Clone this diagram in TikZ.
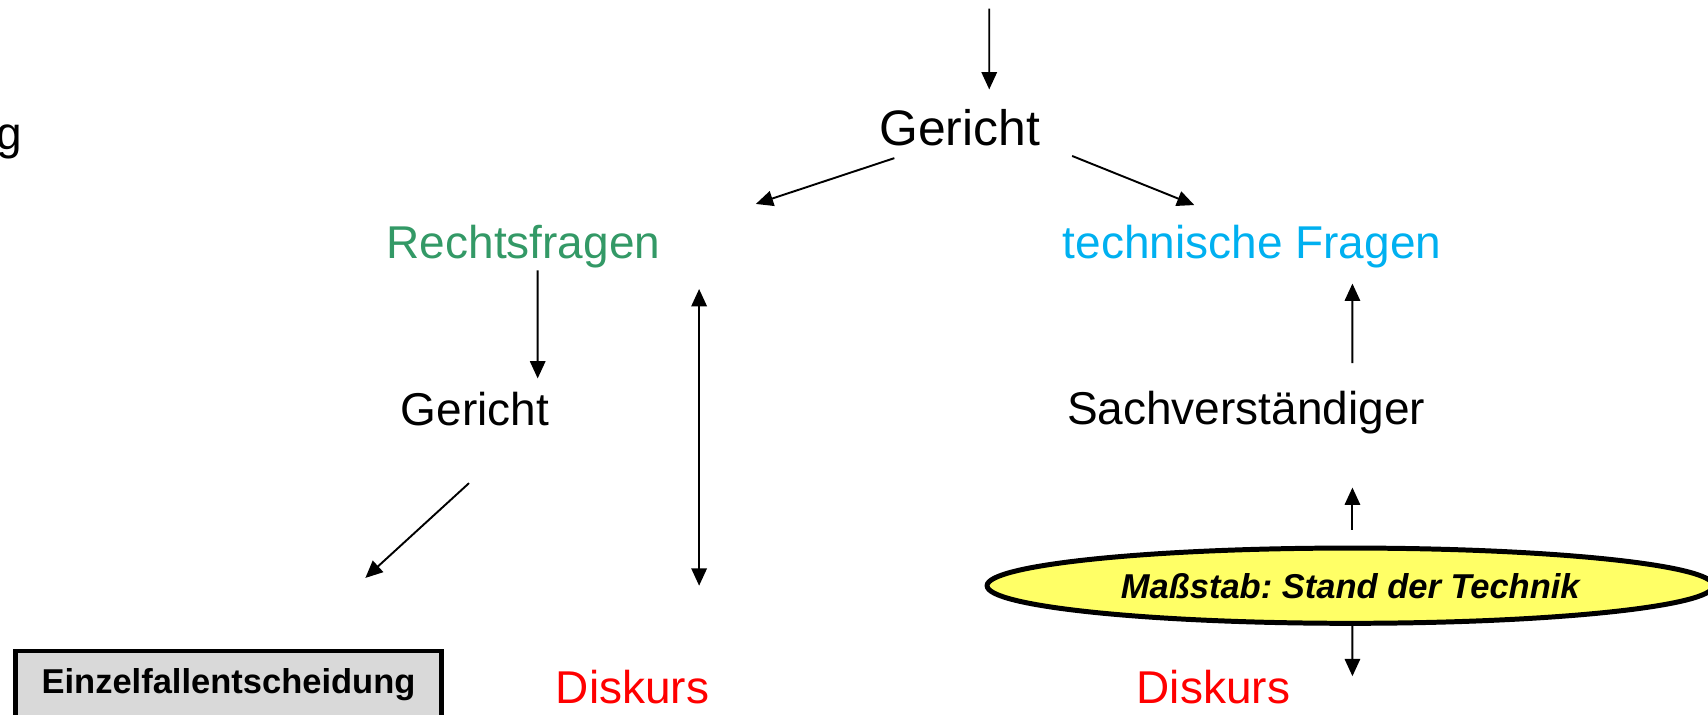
\documentclass[tikz,border=0pt]{standalone}
\usepackage{fontspec}
\setmainfont{Liberation Sans}
\usetikzlibrary{arrows.meta,shapes.geometric}
\frenchspacing

\definecolor{rechtgruen}{RGB}{51,153,102}
\definecolor{technikblau}{RGB}{0,176,240}
\definecolor{diskursrot}{RGB}{255,0,0}
\definecolor{massgelb}{RGB}{255,255,102}
\definecolor{kastengrau}{RGB}{217,217,217}

\begin{document}
\begin{tikzpicture}[
    pfeil/.style={-{Triangle[length=4.5pt,width=4pt]},line width=0.5pt},
    doppelpfeil/.style={{Triangle[length=4.5pt,width=4pt]}-{Triangle[length=4.5pt,width=4pt]},line width=0.5pt},
    wort/.style={anchor=base,inner sep=0pt,font=\fontsize{12}{14}\selectfont},
    klein/.style={font=\fontsize{9}{11}\selectfont\bfseries}
]
    \useasboundingbox (0,0) rectangle (15.66,6.55);

    % Begriffe
    \node[wort,anchor=base west] (rest) at (-0.04,5.18) {g};
    \node[wort,font=\fontsize{13}{15}\selectfont] (gericht) at (8.80,5.22) {Gericht};
    \node[wort,text=rechtgruen] (recht) at (4.80,4.18) {Rechtsfragen};
    \node[wort,text=technikblau] (technik) at (11.48,4.18) {technische Fragen};
    \node[wort] (gerichtB) at (4.355,2.65) {Gericht};
    \node[wort] (sachv) at (11.425,2.66) {Sachverständiger};
    \node[wort,text=diskursrot] (diskursL) at (5.80,0.10) {Diskurs};
    \node[wort,text=diskursrot] (diskursR) at (11.125,0.10) {Diskurs};

    % Kasten und Ellipse
    \node[draw,line width=1.2pt,fill=kastengrau,minimum width=3.91cm,minimum height=0.62cm,
          inner sep=0pt,klein] (einzel) at (2.095,0.27) {Einzelfallentscheidung};
    \node[ellipse,draw,line width=1.3pt,fill=massgelb,minimum width=6.66cm,minimum height=0.69cm,
          inner sep=0pt,font=\fontsize{9}{11}\selectfont\bfseries\itshape] (massstab) at (12.38,1.18) {Maßstab: Stand der Technik};

    % Pfeile
    \coordinate (zulauf) at (9.07,6.47);
    \draw[pfeil] (zulauf) -- ([shift={(0.27,0.51)}]gericht.base);
    \draw[pfeil] ([shift={(-0.60,-0.12)}]gericht.base) -- ([shift={(2.13,0.50)}]recht.base);
    \draw[pfeil] ([shift={(1.03,-0.10)}]gericht.base) -- ([shift={(-0.53,0.49)}]technik.base);
    \draw[pfeil] ([shift={(0.13,-0.11)}]recht.base) -- ([shift={(0.575,0.43)}]gerichtB.base);
    \draw[pfeil] ([shift={(-0.055,-0.53)}]gerichtB.base) -- ([shift={(1.255,0.65)}]einzel.north);
    \draw[doppelpfeil] ([shift={(1.61,-0.28)}]recht.base) -- ([shift={(0.61,1.08)}]diskursL.base);
    \draw[pfeil] ([shift={(0.975,0.56)}]sachv.base) -- ([shift={(0.92,-0.23)}]technik.base);
    \draw[pfeil] ([shift={(0.02,0.145)}]massstab.north) -- ([shift={(0.975,-0.58)}]sachv.base);
    \draw[pfeil] ([shift={(0.02,0)}]massstab.south) -- ([shift={(1.275,0.25)}]diskursR.base);

\end{tikzpicture}
\end{document}
